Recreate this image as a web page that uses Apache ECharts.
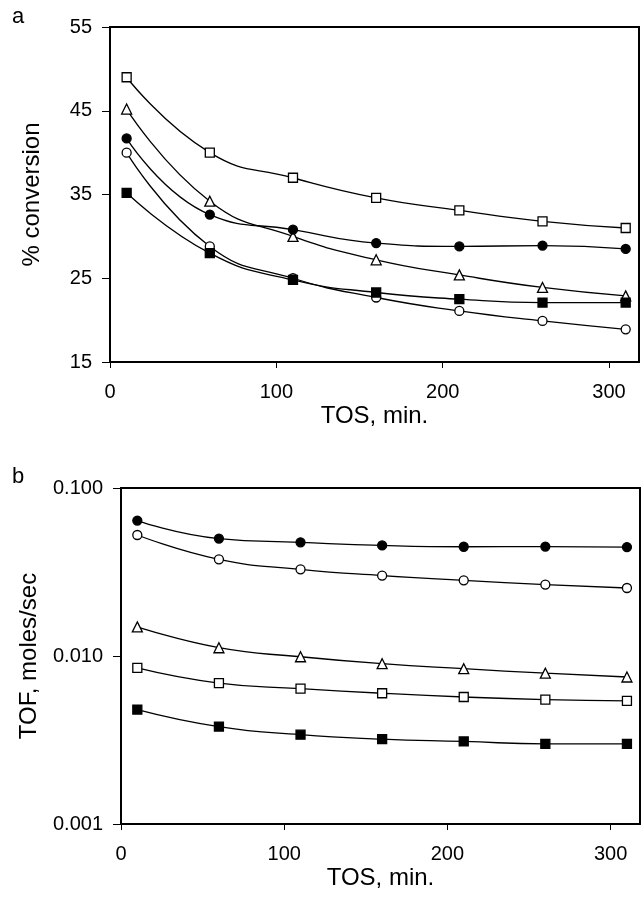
<!DOCTYPE html>
<html>
<head>
<meta charset="utf-8">
<script src="https://cdn.jsdelivr.net/npm/echarts@6/dist/echarts.min.js"></script>
<style>
html,body{margin:0;padding:0;background:#fff;}
#chart{width:642px;height:900px;}
</style>
</head>
<body>
<div id="chart"></div>
<script>
// ---- data ----
const tos = [10, 60, 110, 160, 210, 260, 310];
const xTicks = [0, 100, 200, 300];

// panel a: % conversion
const openSquareA   = [49.0, 40.0, 37.0, 34.6, 33.1, 31.8, 31.0];
const triangleA     = [45.2, 34.2, 30.0, 27.2, 25.4, 23.9, 22.9];
const filledCircleA = [41.7, 32.6, 30.8, 29.2, 28.8, 28.9, 28.5];
const openCircleA   = [40.0, 28.8, 25.0, 22.7, 21.1, 19.9, 18.9];
const filledSquareA = [35.2, 28.0, 24.8, 23.3, 22.5, 22.1, 22.1];
const yTicksA = [15, 25, 35, 45, 55];

// panel b: TOF, moles/sec
const filledCircleB = [0.064, 0.050, 0.0475, 0.0455, 0.0447, 0.0448, 0.0445];
const openCircleB   = [0.0525, 0.0376, 0.0328, 0.0301, 0.0282, 0.0266, 0.0254];
const triangleB     = [0.0149, 0.0112, 0.0099, 0.0090, 0.0084, 0.0079, 0.0075];
const openSquareB   = [0.0085, 0.0069, 0.0064, 0.0060, 0.0057, 0.0055, 0.0054];
const filledSquareB = [0.0048, 0.0038, 0.0034, 0.0032, 0.0031, 0.0030, 0.0030];
const yTicksB = ['0.001', '0.010', '0.100'];

// ---- helpers ----
const FONT = 'Liberation Sans, Arial, sans-serif';
function pairs(ys) { return tos.map((x, i) => [x, ys[i]]); }
function mk(name, ys, symbol, filled, gi) {
  return {
    name, type: 'line', xAxisIndex: gi, yAxisIndex: gi,
    data: pairs(ys), smooth: 0.5,
    symbol, symbolSize: symbol === 'triangle' ? 10 : 9,
    showAllSymbol: true,
    lineStyle: { color: '#000', width: 1.3 },
    itemStyle: { color: filled ? '#000' : '#fff', borderColor: '#000', borderWidth: 1.3 },
    emphasis: { disabled: true },
    animation: false, z: 3
  };
}
function xAxis(gi, max) {
  return {
    type: 'value', gridIndex: gi, min: 0, max: max, interval: 100,
    name: 'TOS, min.', nameLocation: 'middle', nameGap: 42,
    nameTextStyle: { fontFamily: FONT, fontSize: 24, color: '#000' },
    axisLine: { show: true, lineStyle: { color: '#000', width: 2 } },
    axisTick: { show: true, inside: false, length: 6, lineStyle: { color: '#000', width: 1 } },
    axisLabel: { fontFamily: FONT, fontSize: 20, color: '#000', margin: 20, showMaxLabel: false,
      formatter: v => (xTicks.indexOf(v) >= 0 ? String(v) : '') },
    splitLine: { show: false }
  };
}

const chart = echarts.init(document.getElementById('chart'), null, { renderer: 'canvas' });
chart.setOption({
  backgroundColor: '#fff',
  animation: false,
  grid: [
    { left: 110, top: 27, width: 529, height: 335, show: true, borderColor: '#000', borderWidth: 2, backgroundColor: 'transparent' },
    { left: 121, top: 488, width: 519, height: 336, show: true, borderColor: '#000', borderWidth: 2, backgroundColor: 'transparent' }
  ],
  xAxis: [xAxis(0, 318), xAxis(1, 318)],
  yAxis: [
    {
      type: 'value', gridIndex: 0, min: 15, max: 55, interval: 10,
      name: '% conversion', nameLocation: 'middle', nameGap: 66, nameRotate: 90,
      nameTextStyle: { fontFamily: FONT, fontSize: 24, color: '#000' },
      axisLine: { show: true, lineStyle: { color: '#000', width: 2 } },
      axisTick: { show: true, inside: false, length: 8, lineStyle: { color: '#000', width: 1 } },
      axisLabel: { fontFamily: FONT, fontSize: 20, color: '#000', margin: 18,
        formatter: v => (yTicksA.indexOf(v) >= 0 ? String(v) : '') },
      splitLine: { show: false }
    },
    {
      type: 'log', logBase: 10, gridIndex: 1, min: 0.001, max: 0.1,
      name: 'TOF, moles/sec', nameLocation: 'middle', nameGap: 80, nameRotate: 90,
      nameTextStyle: { fontFamily: FONT, fontSize: 24, color: '#000' },
      axisLine: { show: true, lineStyle: { color: '#000', width: 2 } },
      axisTick: { show: true, inside: false, length: 8, lineStyle: { color: '#000', width: 1 } },
      minorTick: { show: false },
      axisLabel: { fontFamily: FONT, fontSize: 20, color: '#000', margin: 18,
        formatter: v => { const s = Number(v).toFixed(3); return yTicksB.indexOf(s) >= 0 ? s : ''; } },
      splitLine: { show: false }
    }
  ],
  graphic: [
    { type: 'text', left: 12, top: 6, style: { text: 'a', font: '22px ' + FONT, fill: '#000' } },
    { type: 'text', left: 12, top: 466, style: { text: 'b', font: '22px ' + FONT, fill: '#000' } }
  ],
  series: [
    mk('open square a', openSquareA, 'rect', false, 0),
    mk('triangle a', triangleA, 'triangle', false, 0),
    mk('filled circle a', filledCircleA, 'circle', true, 0),
    mk('open circle a', openCircleA, 'circle', false, 0),
    mk('filled square a', filledSquareA, 'rect', true, 0),
    mk('filled circle b', filledCircleB, 'circle', true, 1),
    mk('open circle b', openCircleB, 'circle', false, 1),
    mk('triangle b', triangleB, 'triangle', false, 1),
    mk('open square b', openSquareB, 'rect', false, 1),
    mk('filled square b', filledSquareB, 'rect', true, 1)
  ]
});
</script>
</body>
</html>
